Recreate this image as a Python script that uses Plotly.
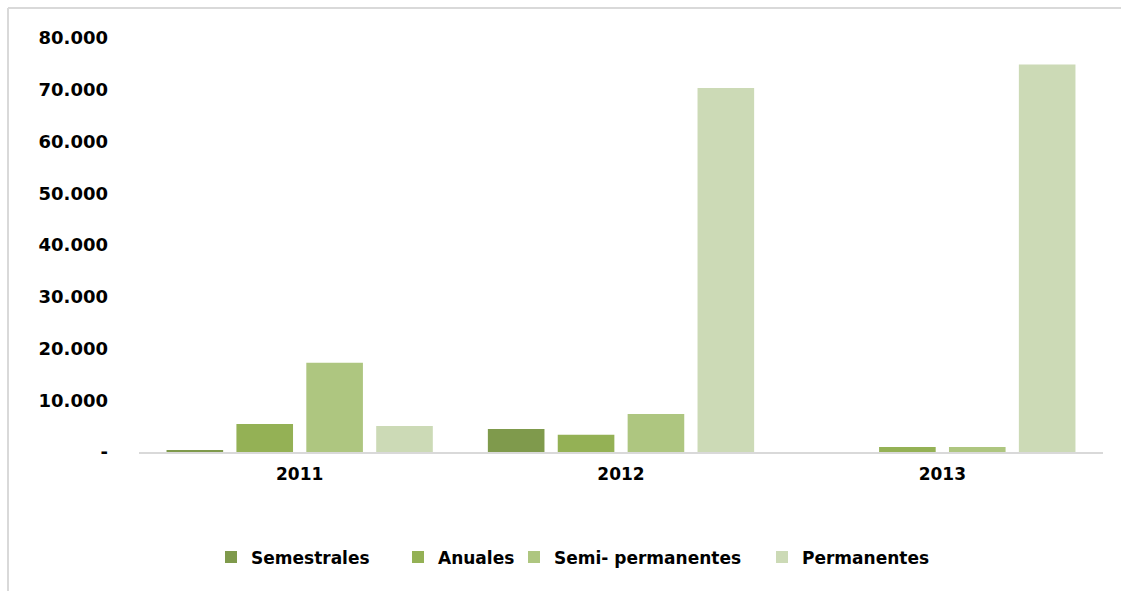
import plotly.graph_objects as go

# Category labels and series values
years = ["2011", "2012", "2013"]
semestrales = [300, 4440, 0]
anuales = [5400, 3340, 970]
semi_permanentes = [17240, 7340, 970]
permanentes = [5020, 70330, 74900]

series_names = ["Semestrales", "Anuales", "Semi- permanentes", "Permanentes"]
series_values = [semestrales, anuales, semi_permanentes, permanentes]
series_colors = ["#7f9a4c", "#94b155", "#aec680", "#ccdab6"]

# Y-axis ticks
tick_values = [0, 10000, 20000, 30000, 40000, 50000, 60000, 70000, 80000]
tick_labels = ["-", "10.000", "20.000", "30.000", "40.000", "50.000", "60.000", "70.000", "80.000"]

W, H = 1121, 591
L, R, T, B = 139, 18, 38, 139
pw, ph = W - L - R, H - T - B

# one legend box per series, placed left to right under the axis
legend_keys = ["legend", "legend2", "legend3", "legend4"]
legend_left_px = [211, 398, 514, 762]

fig = go.Figure()
for name, vals, col, lk in zip(series_names, series_values, series_colors, legend_keys):
    fig.add_trace(go.Bar(
        x=years, y=vals, name=name, legend=lk,
        marker=dict(color=col, line=dict(width=0)),
    ))

legend_style = dict(
    orientation="h", yanchor="middle", y=-0.255, xanchor="left",
    font=dict(family="DejaVu Sans", size=17, weight="bold"),
    bgcolor="rgba(0,0,0,0)",
)
legend_layout = {}
for lk, px in zip(legend_keys, legend_left_px):
    legend_layout[lk] = dict(legend_style, x=(px - L) / pw)

fig.update_layout(
    width=W, height=H,
    margin=dict(l=L, r=R, t=T, b=B),
    paper_bgcolor="white", plot_bgcolor="white",
    barmode="group", bargap=0.13, bargroupgap=0.19,
    font=dict(family="DejaVu Sans", color="black"),
    showlegend=True,
    xaxis=dict(
        showline=True, linecolor="#d9d9d9", linewidth=2, ticks="",
        tickfont=dict(size=17, weight="bold"), showgrid=False,
        ticklabelstandoff=6,
    ),
    yaxis=dict(
        range=[0, 80000], tickvals=tick_values, ticktext=tick_labels,
        tickfont=dict(size=18, weight="bold"), showgrid=False,
        showline=False, zeroline=False, ticks="", ticklabelstandoff=30,
    ),
    shapes=[
        # outer chart frame
        dict(type="line", xref="paper", yref="paper",
             x0=(8 - L) / pw, x1=(W + 5 - L) / pw,
             y0=(H - B - 8) / ph, y1=(H - B - 8) / ph,
             line=dict(color="#d9d9d9", width=2)),
        dict(type="line", xref="paper", yref="paper",
             x0=(8 - L) / pw, x1=(8 - L) / pw,
             y0=(H - B - 8) / ph, y1=-(B + 5) / ph,
             line=dict(color="#d9d9d9", width=2)),
    ],
    **legend_layout,
)

fig.write_html("out.html")
